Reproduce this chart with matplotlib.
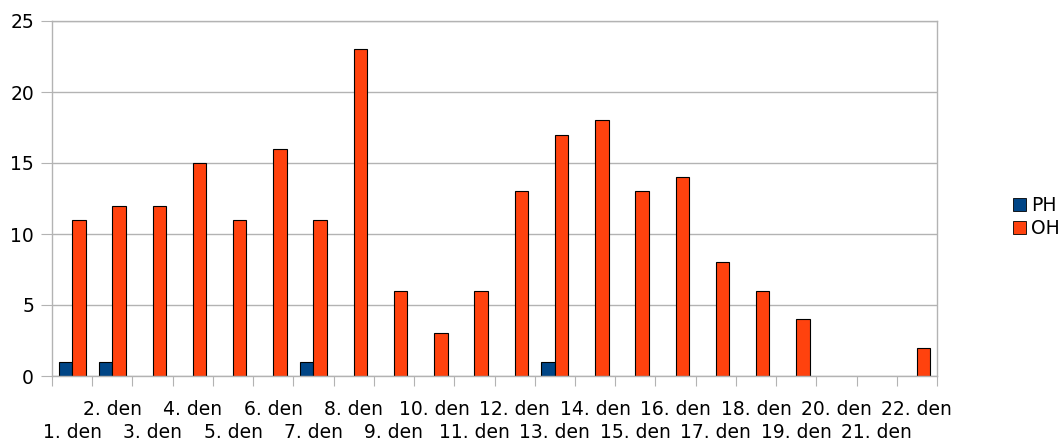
import numpy as np
import matplotlib
matplotlib.use('Agg')
from matplotlib import pyplot as plt
from matplotlib.patches import Patch

plt.rcParams['font.family'] = ['DejaVu Sans']

# data
days = ['%d. den' % i for i in range(1, 23)]
ph = [1, 1, 0, 0, 0, 0, 1, 0, 0, 0, 0, 0, 1, 0, 0, 0, 0, 0, 0, 0, 0, 0]
oh = [11, 12, 12, 15, 11, 16, 11, 23, 6, 3, 6, 13, 17, 18, 13, 14, 8, 6, 4, 0, 0, 2]

c_ph = '#004586'
c_oh = '#ff420e'
grid_c = '#b3b3b3'

fig = plt.figure(figsize=(10.64, 4.41), dpi=100)
ax = fig.add_axes([52/1064, 65/441, 885/1064, 355/441])

x = np.arange(len(days))
w = 0.335
# zero values are not drawn (no outline on the axis)
ph_ec = ['black' if v > 0 else 'none' for v in ph]
oh_ec = ['black' if v > 0 else 'none' for v in oh]
ax.bar(x - w/2, ph, w, color=c_ph, edgecolor=ph_ec, linewidth=0.8, zorder=3)
ax.bar(x + w/2, oh, w, color=c_oh, edgecolor=oh_ec, linewidth=0.8, zorder=3)

ax.set_xlim(-0.5, len(days) - 0.5)
ax.set_ylim(0, 25)
ax.set_yticks([0, 5, 10, 15, 20, 25])
ax.yaxis.grid(True, color=grid_c, linewidth=1, zorder=0)
ax.tick_params(axis='y', length=8, color=grid_c, labelsize=13.5, pad=5)

# category boundaries as ticks, labels in two staggered rows
ax.set_xticks(np.arange(len(days) + 1) - 0.5)
ax.set_xticklabels([])
ax.tick_params(axis='x', length=7, color=grid_c)
trans = ax.get_xaxis_transform()
for i, d in enumerate(days):
    yy = -0.093 if i % 2 == 1 else -0.158
    ax.text(i, yy, d, transform=trans, ha='center', va='center', fontsize=13.5)

for s in ax.spines.values():
    s.set_color(grid_c)
    s.set_linewidth(1)
    s.set_zorder(4)

handles = [Patch(facecolor=c_ph, edgecolor='black', linewidth=0.6, label='PH'),
           Patch(facecolor=c_oh, edgecolor='black', linewidth=0.6, label='OH')]
fig.legend(handles=handles, loc='center left', bbox_to_anchor=(1005/1064, 1 - 217/441),
           frameon=False, fontsize=13.5, handlelength=0.7, handleheight=0.7,
           handletextpad=0.3, labelspacing=0.25, borderaxespad=0)

fig.savefig('out.png', dpi=100)
